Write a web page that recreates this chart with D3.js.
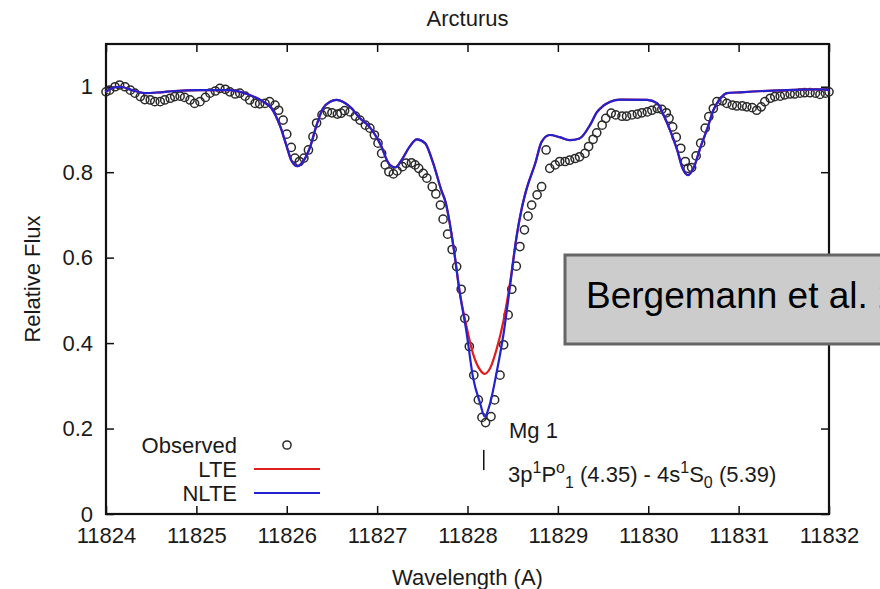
<!DOCTYPE html>
<html><head><meta charset="utf-8">
<script src="https://cdn.jsdelivr.net/npm/d3@7"></script>
<style>
body{margin:0;background:#fff}
text{font-family:"Liberation Sans",Arial,Helvetica,sans-serif;fill:#1a1a1a}
</style>
</head><body>
<svg id="c" width="880" height="589"></svg>
<script>
const title = "Arcturus";
const xLabel = "Wavelength (A)";
const yLabel = "Relative Flux";
const xTicks = [11824, 11825, 11826, 11827, 11828, 11829, 11830, 11831, 11832];
const yTicks = [0, 0.2, 0.4, 0.6, 0.8, 1];
const yTickLabels = ["0", "0.2", "0.4", "0.6", "0.8", "1"];
const legendLabels = ["Observed", "LTE", "NLTE"];
const lineLabel = "Mg 1";
const lineWave = 11828.18;
const boxText = "Bergemann et al. 2012";

const obsWave = [11824.00,11824.04,11824.10,11824.15,11824.21,11824.27,11824.32,11824.38,11824.43,11824.49,
11824.54,11824.60,11824.65,11824.71,11824.76,11824.82,11824.87,11824.93,11824.98,11825.04,
11825.10,11825.15,11825.21,11825.26,11825.32,11825.37,11825.43,11825.48,11825.54,11825.59,
11825.65,11825.70,11825.76,11825.81,11825.87,11825.91,11825.96,11826.00,11826.05,11826.09,
11826.14,11826.19,11826.24,11826.29,11826.33,11826.39,11826.45,11826.50,11826.56,11826.60,
11826.64,11826.70,11826.76,11826.81,11826.87,11826.92,11826.97,11827.01,11827.05,11827.09,
11827.13,11827.18,11827.22,11827.28,11827.32,11827.38,11827.42,11827.46,11827.51,11827.55,
11827.61,11827.65,11827.70,11827.73,11827.78,11827.83,11827.88,11827.93,11827.97,11828.02,
11828.07,11828.12,11828.16,11828.20,11828.26,11828.30,11828.36,11828.40,11828.45,11828.49,
11828.54,11828.58,11828.63,11828.67,11828.71,11828.77,11828.82,11828.87,11828.91,11828.97,
11829.02,11829.08,11829.13,11829.19,11829.24,11829.30,11829.34,11829.39,11829.43,11829.49,
11829.53,11829.59,11829.64,11829.71,11829.76,11829.82,11829.88,11829.93,11829.99,11830.04,
11830.10,11830.15,11830.20,11830.23,11830.27,11830.31,11830.36,11830.41,11830.44,11830.48,
11830.53,11830.58,11830.63,11830.67,11830.72,11830.76,11830.82,11830.87,11830.93,11830.98,
11831.04,11831.09,11831.15,11831.20,11831.25,11831.29,11831.35,11831.40,11831.46,11831.51,
11831.57,11831.62,11831.68,11831.73,11831.79,11831.85,11831.90,11831.96,11832.00];
const obsFlux = [0.988,0.992,1.000,1.004,1.000,0.992,0.985,0.977,0.970,0.969,
0.965,0.965,0.969,0.973,0.977,0.978,0.975,0.969,0.961,0.965,
0.975,0.985,0.990,0.996,0.994,0.988,0.983,0.985,0.978,0.969,
0.961,0.960,0.961,0.965,0.957,0.945,0.922,0.889,0.858,0.833,
0.825,0.833,0.852,0.883,0.915,0.934,0.941,0.939,0.936,0.938,
0.944,0.941,0.931,0.922,0.910,0.903,0.887,0.868,0.844,0.817,
0.801,0.796,0.803,0.813,0.821,0.822,0.817,0.809,0.797,0.786,
0.766,0.749,0.723,0.690,0.655,0.619,0.579,0.526,0.458,0.392,
0.325,0.267,0.226,0.214,0.228,0.267,0.325,0.396,0.466,0.526,
0.580,0.626,0.665,0.697,0.723,0.747,0.766,0.852,0.809,0.817,
0.825,0.825,0.828,0.832,0.836,0.844,0.860,0.877,0.892,0.910,
0.926,0.938,0.934,0.931,0.931,0.934,0.936,0.939,0.941,0.945,
0.949,0.947,0.939,0.926,0.906,0.882,0.856,0.825,0.809,0.811,
0.838,0.868,0.903,0.930,0.949,0.965,0.967,0.961,0.957,0.955,
0.955,0.953,0.951,0.945,0.953,0.965,0.973,0.977,0.978,0.981,
0.983,0.983,0.985,0.986,0.986,0.985,0.982,0.985,0.988];

const modelWave = [11824.00,11824.08,11824.15,11824.32,11824.43,11824.60,11824.76,11825.04,11825.37,11825.56,
11825.74,11825.83,11825.93,11826.00,11826.05,11826.12,11826.18,11826.26,11826.33,11826.40,
11826.48,11826.55,11826.62,11826.70,11826.81,11826.92,11827.03,11827.14,11827.20,11827.27,
11827.36,11827.44,11827.53,11827.62,11827.71,11827.76,11827.80,11827.85,11827.91,11827.99,
11828.06,11828.14,11828.19,11828.25,11828.32,11828.40,11828.47,11828.54,11828.60,11828.65,
11828.75,11828.82,11828.91,11829.02,11829.13,11829.24,11829.36,11829.43,11829.50,11829.58,
11829.69,11829.99,11830.10,11830.16,11830.24,11830.32,11830.38,11830.44,11830.50,11830.58,
11830.66,11830.72,11830.80,11830.87,11831.02,11831.38,11831.93,11832.00];
const nlteFlux = [0.988,0.998,1.000,0.990,0.985,0.987,0.990,0.992,0.992,0.983,
0.965,0.950,0.906,0.860,0.828,0.814,0.825,0.860,0.910,0.949,
0.965,0.969,0.965,0.953,0.926,0.905,0.868,0.817,0.811,0.828,
0.860,0.877,0.868,0.821,0.758,0.728,0.685,0.618,0.524,0.424,
0.321,0.259,0.228,0.259,0.329,0.423,0.532,0.645,0.715,0.758,
0.821,0.871,0.887,0.882,0.875,0.879,0.912,0.940,0.955,0.965,
0.970,0.969,0.961,0.938,0.899,0.852,0.809,0.793,0.809,0.860,
0.906,0.945,0.973,0.985,0.987,0.991,0.994,0.992];
const lteFlux = [0.988,0.998,1.000,0.990,0.985,0.987,0.990,0.992,0.992,0.983,
0.965,0.950,0.906,0.860,0.828,0.814,0.825,0.860,0.910,0.949,
0.965,0.969,0.965,0.953,0.926,0.905,0.868,0.817,0.811,0.828,
0.860,0.877,0.868,0.821,0.758,0.728,0.685,0.618,0.524,0.438,
0.376,0.337,0.328,0.341,0.384,0.454,0.540,0.645,0.715,0.758,
0.821,0.871,0.887,0.882,0.875,0.879,0.912,0.940,0.955,0.965,
0.970,0.969,0.961,0.938,0.899,0.852,0.809,0.793,0.809,0.860,
0.906,0.945,0.973,0.985,0.987,0.991,0.994,0.992];

const colors = {obs:"#2a2a2a", lte:"#e01e1e", nlte:"#2222d0"};

const svg = d3.select("#c");
const L = 106, R = 829, T = 44, B = 514;
const x = d3.scaleLinear().domain([11824, 11832]).range([L, R]);
const y = d3.scaleLinear().domain([0, 1.1]).range([B, T]);
const FS = 22;

// axes (ticks inward)
const gb = svg.append("g").attr("transform", `translate(0,${B})`)
  .call(d3.axisBottom(x).tickValues(xTicks).tickFormat(d3.format("d")).tickSize(-8).tickPadding(13));
const gl = svg.append("g").attr("transform", `translate(${L},0)`)
  .call(d3.axisLeft(y).tickValues(yTicks).tickFormat((d,i)=>yTickLabels[i]).tickSize(-8).tickPadding(13));
const gt = svg.append("g").attr("transform", `translate(0,${T})`)
  .call(d3.axisTop(x).tickValues(xTicks).tickFormat("").tickSize(-8));
const gr = svg.append("g").attr("transform", `translate(${R},0)`)
  .call(d3.axisRight(y).tickValues(yTicks).tickFormat("").tickSize(-8));
[gb, gl, gt, gr].forEach(g => {
  g.select(".domain").remove();
  g.selectAll(".tick line").attr("stroke", "#111").attr("stroke-width", 1.5);
  g.selectAll("text").attr("font-size", FS).attr("fill", "#1a1a1a")
    .style("font-family", '"Liberation Sans",Arial,Helvetica,sans-serif');
});

svg.append("rect").attr("x", L).attr("y", T).attr("width", R - L).attr("height", B - T)
  .attr("fill", "none").attr("stroke", "#111").attr("stroke-width", 2.2);

// title & axis labels
svg.append("text").attr("x", (L + R) / 2).attr("y", 26).attr("text-anchor", "middle")
  .attr("font-size", FS).text(title);
svg.append("text").attr("x", (L + R) / 2).attr("y", 585).attr("text-anchor", "middle")
  .attr("font-size", FS).text(xLabel);
svg.append("text").attr("transform", `translate(40,${(T + B) / 2}) rotate(-90)`)
  .attr("text-anchor", "middle").attr("font-size", FS).text(yLabel);

// data
const plot = svg.append("g");
const obs = obsWave.map((w, i) => [w, obsFlux[i]]);
plot.selectAll("circle.obs").data(obs).enter().append("circle")
  .attr("cx", d => x(d[0])).attr("cy", d => y(d[1])).attr("r", 4.1)
  .attr("fill", "none").attr("stroke", colors.obs).attr("stroke-width", 1.5);

const line = d3.line().x(d => x(d[0])).y(d => y(d[1])).curve(d3.curveMonotoneX);
plot.append("path").datum(modelWave.map((w, i) => [w, lteFlux[i]]))
  .attr("d", line).attr("fill", "none").attr("stroke", colors.lte).attr("stroke-width", 2.2);
plot.append("path").datum(modelWave.map((w, i) => [w, nlteFlux[i]]))
  .attr("d", line).attr("fill", "none").attr("stroke", colors.nlte).attr("stroke-width", 2.2);

// legend
const legY = [453, 477, 501];
const lg = svg.append("g");
lg.selectAll("text").data(legendLabels).enter().append("text")
  .attr("x", 237).attr("y", (d, i) => legY[i]).attr("text-anchor", "end")
  .attr("font-size", FS).text(d => d);
lg.append("circle").attr("cx", 287).attr("cy", legY[0] - 8).attr("r", 4.1)
  .attr("fill", "none").attr("stroke", colors.obs).attr("stroke-width", 1.5);
lg.append("line").attr("x1", 254).attr("x2", 320).attr("y1", legY[1] - 8).attr("y2", legY[1] - 8)
  .attr("stroke", colors.lte).attr("stroke-width", 2.2);
lg.append("line").attr("x1", 254).attr("x2", 320).attr("y1", legY[2] - 8).attr("y2", legY[2] - 8)
  .attr("stroke", colors.nlte).attr("stroke-width", 2.2);

// line identification
svg.append("line").attr("x1", x(lineWave)).attr("x2", x(lineWave)).attr("y1", 450).attr("y2", 470)
  .attr("stroke", "#111").attr("stroke-width", 1.5);
svg.append("text").attr("x", 509).attr("y", 438).attr("font-size", FS).text(lineLabel);
const tr = svg.append("text").attr("x", 508).attr("y", 482).attr("font-size", FS)
  .attr("xml:space", "preserve");
const parts = [
  ["3p", 0], ["1", -1], ["P", 0], ["o", -1], ["1", 1], [" (4.35) - 4s", 0], ["1", -1], ["S", 0], ["0", 1], [" (5.39)", 0]
];
let level = 0;
parts.forEach(([t, l]) => {
  const target = l === -1 ? -9 : (l === 1 ? 6 : 0);
  tr.append("tspan").attr("dy", target - level).attr("font-size", l === 0 ? FS : 16)
    .style("white-space", "pre").text(t);
  level = target;
});

// annotation box (runs off the right edge, as in the original)
svg.append("rect").attr("x", 565).attr("y", 255).attr("width", 340).attr("height", 89)
  .attr("fill", "#cccccc").attr("stroke", "#666666").attr("stroke-width", 3);
svg.append("text").attr("x", 586).attr("y", 308).attr("font-size", 37)
  .style("fill", "#000").text(boxText);
</script>
</body></html>
